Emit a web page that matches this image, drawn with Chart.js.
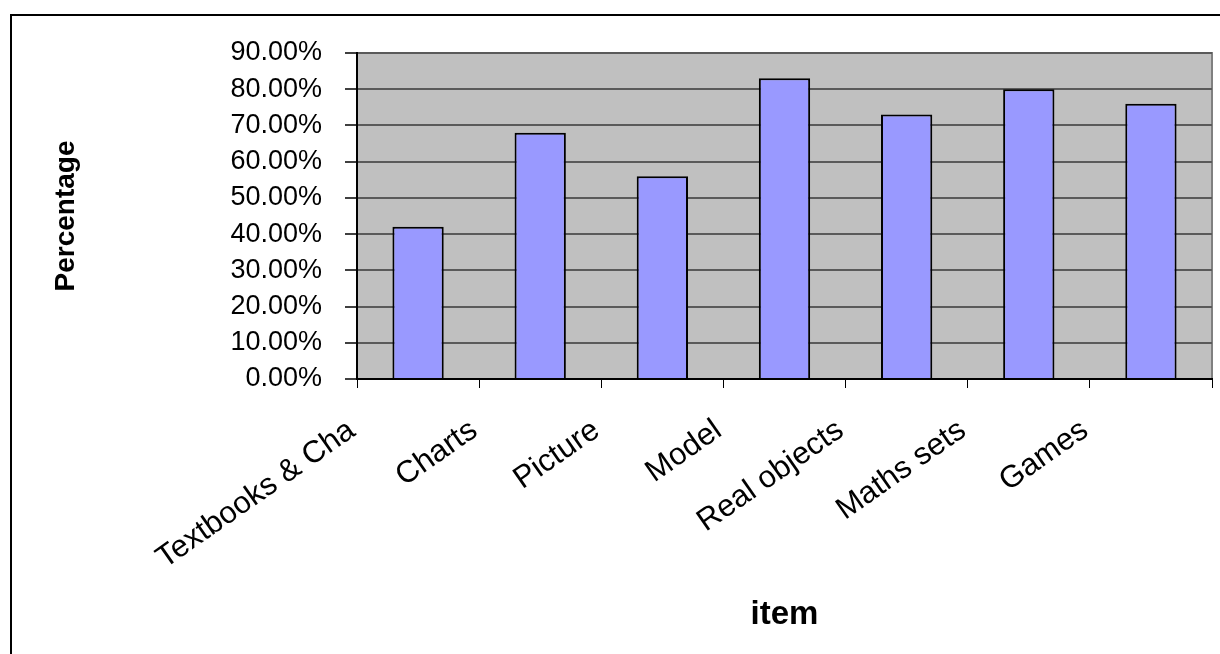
<!DOCTYPE html>
<html>
<head>
<meta charset="utf-8">
<script src="https://cdn.jsdelivr.net/npm/chart.js@4"></script>
<style>
  html, body { margin: 0; padding: 0; background: #fff; overflow: hidden; width: 1220px; height: 654px; }
  #frame { position: absolute; left: 10px; top: 14px; width: 1300px; height: 700px; border: 2px solid #000; box-sizing: border-box; }
  #wrap { position: absolute; left: 0; top: 0; width: 1220px; height: 654px; }
</style>
</head>
<body>
<div id="frame"></div>
<div id="wrap"><canvas id="c" width="1220" height="654"></canvas></div>
<script>
const categories = ["Textbooks & Cha", "Charts", "Picture", "Model", "Real objects", "Maths sets", "Games"];
const percentages = [0.42, 0.68, 0.56, 0.83, 0.73, 0.80, 0.76];
const yTickValues = [0, 0.1, 0.2, 0.3, 0.4, 0.5, 0.6, 0.7, 0.8, 0.9];
const yAxisTitle = "Percentage";
const xAxisTitle = "item";

const plotBg = {
  id: 'plotBg',
  beforeDraw(chart) {
    const {ctx, chartArea: a} = chart;
    ctx.save();
    ctx.fillStyle = '#C0C0C0';
    ctx.fillRect(a.left, a.top, a.right - a.left, a.bottom - a.top);
    ctx.strokeStyle = '#808080';
    ctx.lineWidth = 2;
    ctx.strokeRect(a.left, a.top, a.right - a.left, a.bottom - a.top);
    ctx.restore();
  }
};

new Chart(document.getElementById('c'), {
  type: 'bar',
  data: {
    labels: categories,
    datasets: [{
      data: percentages,
      backgroundColor: '#9999FF',
      borderColor: '#000000',
      borderWidth: 2,
      barPercentage: 0.42,
      categoryPercentage: 1.0
    }]
  },
  options: {
    responsive: false,
    animation: false,
    layout: { padding: { top: 53, right: 8, left: 0, bottom: 0 } },
    plugins: { legend: { display: false }, tooltip: { enabled: false } },
    scales: {
      x: {
        grid: { display: true, drawOnChartArea: false, drawTicks: true, tickLength: 9, color: '#000', tickColor: '#000', offset: true },
        border: { display: true, color: '#000', width: 2 },
        ticks: {
          autoSkip: false,
          minRotation: 35, maxRotation: 35,
          padding: 24,
          labelOffset: -66,
          color: '#000',
          font: { family: '"Liberation Sans", Arial, sans-serif', size: 31 }
        },
        title: {
          display: true, text: xAxisTitle, color: '#000',
          font: { family: '"Liberation Sans", Arial, sans-serif', size: 33, weight: 'bold' },
          padding: { top: 0, bottom: 19 }
        },
        afterFit(s) { s.height = 654 - 379; }
      },
      y: {
        min: 0, max: 0.9,
        afterBuildTicks(s) { s.ticks = yTickValues.map(v => ({ value: v })); },
        grid: { color: '#5a5a5a', tickColor: '#404040', lineWidth: 2, tickLength: 12, drawOnChartArea: true },
        border: { display: true, color: '#000', width: 2 },
        ticks: {
          padding: 23,
          color: '#000',
          font: { family: '"Liberation Sans", Arial, sans-serif', size: 27 },
          callback: v => (v * 100).toFixed(2) + '%'
        },
        title: {
          display: true, text: yAxisTitle, color: '#000',
          font: { family: '"Liberation Sans", Arial, sans-serif', size: 28, weight: 'bold' },
          padding: { top: 49, bottom: 0 }
        },
        afterFit(s) { s.width = 357; }
      }
    }
  },
  plugins: [plotBg]
});
</script>
</body>
</html>
